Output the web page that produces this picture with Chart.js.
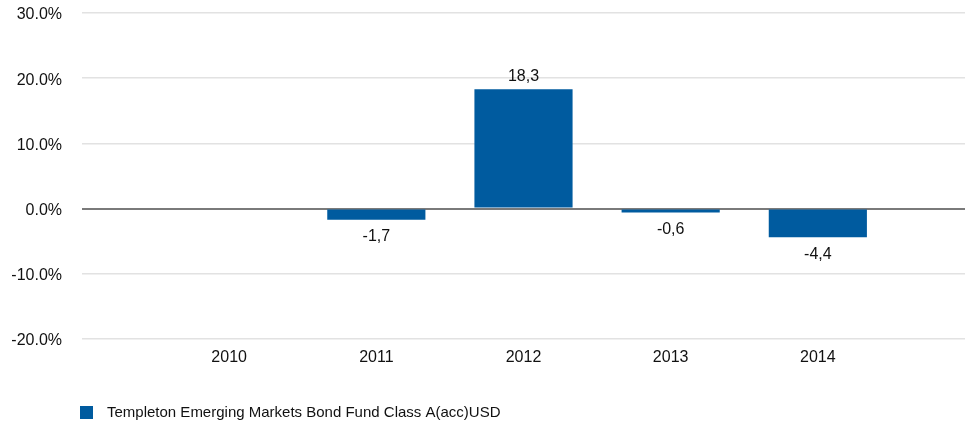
<!DOCTYPE html>
<html>
<head>
<meta charset="utf-8">
<script src="https://cdn.jsdelivr.net/npm/chart.js@4/dist/chart.umd.min.js"></script>
<style>
  html, body { margin: 0; padding: 0; background: #ffffff; }
  #wrap { width: 965px; height: 423px; position: relative; }
</style>
</head>
<body>
<div id="wrap"><canvas id="c" width="965" height="423"></canvas></div>
<script>
const years = ['2010', '2011', '2012', '2013', '2014'];
const returns = [null, -1.7, 18.3, -0.6, -4.4];
const seriesName = 'Templeton Emerging Markets Bond Fund Class A(acc)USD';
const yTicks = [-20, -10, 0, 10, 20, 30];

const labels = [''].concat(years, ['']);
const data = [null].concat(returns, [null]);

const FONT = "'Liberation Sans', Arial, sans-serif";
const BLUE = '#005b9f';

// legend marker image (13x13 square)
const marker = document.createElement('canvas');
marker.width = 13; marker.height = 13;
(function () { const m = marker.getContext('2d'); m.fillStyle = BLUE; m.fillRect(0, 0, 13, 13); })();

const valueLabels = {
  id: 'valueLabels',
  afterDatasetsDraw(chart) {
    const ctx = chart.ctx;
    const meta = chart.getDatasetMeta(0);
    ctx.save();
    ctx.font = '16px ' + FONT;
    ctx.fillStyle = '#111111';
    ctx.textAlign = 'center';
    ctx.textBaseline = 'middle';
    meta.data.forEach((el, i) => {
      const v = data[i];
      if (v === null || v === undefined) return;
      const txt = v.toFixed(1).replace('.', ',');
      const y = v >= 0 ? el.y - 13 : el.y + 17;
      ctx.fillText(txt, el.x, y);
    });
    ctx.restore();
  }
};

const legendShift = {
  id: 'legendShift',
  afterLayout(chart) {
    if (chart.legend) {
      chart.legend.left = 63.5;
      chart.legend.top = 395;
    }
  }
};

new Chart(document.getElementById('c'), {
  type: 'bar',
  data: {
    labels: labels,
    datasets: [{
      label: seriesName,
      data: data,
      backgroundColor: BLUE,
      borderWidth: 0,
      pointStyle: marker,
      categoryPercentage: 0.667,
      barPercentage: 1.0
    }]
  },
  options: {
    responsive: false,
    animation: false,
    layout: { autoPadding: false, padding: { top: 13, right: 0, left: 0, bottom: 0 } },
    plugins: {
      legend: {
        position: 'bottom',
        align: 'start',
        labels: {
          usePointStyle: true,
          pointStyleWidth: 26,
          boxHeight: 13,
          padding: 10,
          color: '#111111',
          font: { family: FONT, size: 15 }
        }
      },
      tooltip: { enabled: false }
    },
    scales: {
      x: {
        type: 'category',
        offset: false,
        grid: { display: false, drawTicks: false },
        border: { display: false },
        ticks: {
          color: '#111111',
          font: { family: FONT, size: 16 },
          padding: 9,
          autoSkip: false,
          maxRotation: 0
        },
        afterFit(scale) {
          scale.height = 49;
          scale.paddingLeft = 0; scale.paddingRight = 0;
          scale.paddingTop = 0; scale.paddingBottom = 0;
        }
      },
      y: {
        min: -20,
        max: 30,
        afterBuildTicks(scale) { scale.ticks = yTicks.map(v => ({ value: v })); },
        grid: {
          drawTicks: false,
          color: (c) => c.tick && c.tick.value === 0 ? '#7a7a7a' : '#e2e2e2',
          lineWidth: (c) => c.tick && c.tick.value === 0 ? 2 : 1.5
        },
        border: { display: false },
        ticks: {
          color: '#111111',
          font: { family: FONT, size: 16 },
          padding: 20,
          labelOffset: 2,
          callback: (v) => v.toFixed(1) + '%'
        },
        afterFit(scale) {
          scale.width = 82;
          scale.paddingTop = 0; scale.paddingBottom = 0;
          scale.paddingLeft = 0; scale.paddingRight = 0;
        }
      }
    }
  },
  plugins: [valueLabels, legendShift]
});
</script>
</body>
</html>
